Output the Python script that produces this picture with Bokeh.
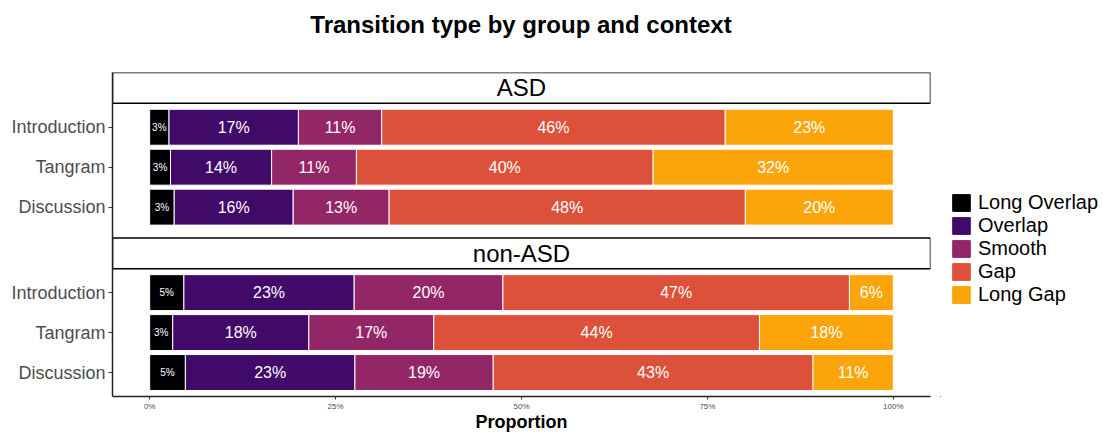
from bokeh.plotting import figure
from bokeh.layouts import row, column
from bokeh.models import Range1d, FixedTicker, NumeralTickFormatter, Legend, LegendItem, Div
from bokeh.core.properties import value
from bokeh.embed import file_html
from bokeh.resources import INLINE

# ---------------- data ----------------
chart_title = "Transition type by group and context"
groups = ["ASD", "non-ASD"]
contexts = ["Introduction", "Tangram", "Discussion"]
types = ["Long Overlap", "Overlap", "Smooth", "Gap", "Long Gap"]
colors = ["#000004", "#420A68", "#932667", "#DD513A", "#FCA50A"]

# percentages; order: ASD Intro, ASD Tangram, ASD Discussion, non-ASD Intro, non-ASD Tangram, non-ASD Discussion
long_overlap = [2.6, 2.8, 3.3, 4.6, 3.1, 4.8]
overlap      = [17.4, 13.6, 16.0, 22.9, 18.3, 22.8]
smooth       = [11.2, 11.4, 12.9, 20.0, 16.8, 18.6]
gap          = [46.2, 39.9, 47.9, 46.6, 43.8, 43.0]
long_gap     = [22.6, 32.3, 19.9, 5.9, 18.0, 10.8]
series = [long_overlap, overlap, smooth, gap, long_gap]

FONT = "Liberation Sans"

# ---------------- layout (in row units) ----------------
STRIP_H = 0.77
GAP_H = 0.17
EXPAND = 0.6
PANEL_H = (len(contexts) - 1) + 2 * EXPAND

strip_tops = []
centers = []
labels = []
y = 0.0
for g in groups:
    strip_tops.append(y)
    ptop = y + STRIP_H
    for i, c in enumerate(contexts):
        centers.append(round(ptop + EXPAND + i, 3))
        labels.append(c)
    y = ptop + PANEL_H + GAP_H
y_total = y - GAP_H

x0, x1 = -0.05, 1.05

W_MAIN = 940
TITLE_H = 50
H = 434 - TITLE_H

title_div = Div(
    text=(f'<div style="font-family:\'{FONT}\',sans-serif;font-size:24px;font-weight:bold;'
          f'color:black;text-align:center;width:1042px;line-height:24px;padding-top:13px;">'
          f'{chart_title}</div>'),
    width=1103, height=TITLE_H, margin=0)

p = figure(width=W_MAIN, height=H, output_backend="svg", toolbar_location=None,
           x_range=Range1d(x0, x1), y_range=Range1d(y_total, 0),
           min_border_left=112, min_border_right=10, min_border_top=72 - TITLE_H,
           min_border_bottom=30)
p.outline_line_color = None
p.xgrid.visible = False
p.ygrid.visible = False
p.background_fill_color = "white"
p.border_fill_color = "white"

# strips
for g, st in zip(groups, strip_tops):
    p.quad(left=x0, right=x1, top=st, bottom=st + STRIP_H, fill_color="white",
           line_color="black", line_width=1.5)
    p.text(x=[(x0 + x1) / 2], y=[st + STRIP_H / 2], text=[g], text_align="center",
           text_baseline="middle", text_font=value(FONT), text_font_size="24px",
           text_color="black")

# bars
n = len(centers)
lefts = [0.0] * n
for k, (t, vals, col) in enumerate(zip(types, series, colors)):
    L = [lefts[i] / 100 for i in range(n)]
    R = [(lefts[i] + vals[i]) / 100 for i in range(n)]
    p.hbar(y=centers, left=L, right=R, height=0.9, fill_color=col,
           line_color="white", line_width=1)
    p.text(x=[(a + b) / 2 for a, b in zip(L, R)], y=centers,
           text=[f"{round(v)}%" for v in vals], text_align="center", text_baseline="middle",
           text_font=value(FONT), text_font_size="10px" if k == 0 else "16px",
           text_color="white")
    lefts = [lefts[i] + vals[i] for i in range(n)]

# axes
p.yaxis.ticker = FixedTicker(ticks=centers)
p.yaxis.major_label_overrides = {c: l for c, l in zip(centers, labels)}
p.yaxis.major_label_text_font = FONT
p.yaxis.major_label_text_font_size = "18px"
p.yaxis.major_label_text_color = "#4D4D4D"
p.yaxis.major_tick_out = 4
p.yaxis.major_tick_in = 0
p.yaxis.minor_tick_line_color = None
p.yaxis.major_tick_line_color = "#333333"
p.yaxis.axis_line_color = "#222222"
p.yaxis.axis_line_width = 1.5
p.yaxis.major_label_standoff = 3

p.xaxis.ticker = FixedTicker(ticks=[0, 0.25, 0.5, 0.75, 1.0])
p.xaxis.formatter = NumeralTickFormatter(format="0%")
p.xaxis.major_label_text_font = FONT
p.xaxis.major_label_text_font_size = "8px"
p.xaxis.major_label_text_color = "#4D4D4D"
p.xaxis.major_tick_out = 3
p.xaxis.major_tick_in = 0
p.xaxis.minor_tick_line_color = None
p.xaxis.major_tick_line_color = "#333333"
p.xaxis.axis_line_color = "#222222"
p.xaxis.axis_line_width = 1.5
p.xaxis.major_label_standoff = 2
p.xaxis.axis_label = "Proportion"
p.xaxis.axis_label_text_font = FONT
p.xaxis.axis_label_text_font_size = "18px"
p.xaxis.axis_label_text_font_style = "bold"
p.xaxis.axis_label_text_color = "black"
p.xaxis.axis_label_standoff = -2

# ---------------- legend panel ----------------
lg = figure(width=1103 - W_MAIN, height=H, output_backend="svg", toolbar_location=None,
            x_range=Range1d(0, 1), y_range=Range1d(0, 1),
            x_axis_location=None, y_axis_location=None, min_border=0)
lg.outline_line_color = None
lg.xgrid.visible = False
lg.ygrid.visible = False
items = []
for t, col in zip(types, colors):
    # legend-key renderer only: its single zero-width bar lies far outside the visible ranges
    r = lg.hbar(y=[-50], left=[-50], right=[-50], height=0.9, fill_color=col,
                line_color=col, line_width=1)
    items.append(LegendItem(label=t, renderers=[r]))

legend = Legend(items=items, location=(10, 90), orientation="vertical")
legend.glyph_width = 22
legend.glyph_height = 21
legend.label_height = 18
legend.spacing = -2
legend.label_standoff = 6
legend.padding = 0
legend.margin = 0
legend.border_line_color = None
legend.background_fill_alpha = 0
legend.label_text_font = FONT
legend.label_text_font_size = "20px"
legend.label_text_line_height = 0.9
legend.label_text_color = "black"
lg.add_layout(legend)

layout = column(title_div, row(p, lg))
open("out.html", "w").write(file_html(layout, INLINE))
